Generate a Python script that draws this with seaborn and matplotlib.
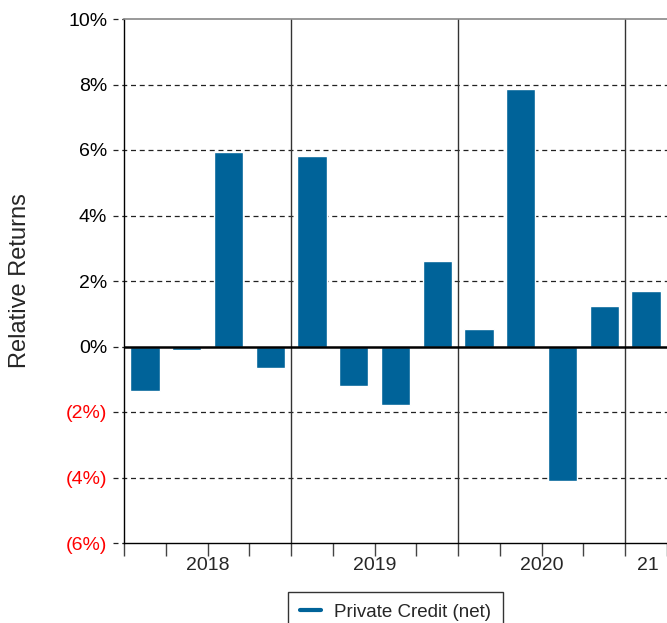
import matplotlib
matplotlib.use('Agg')
import matplotlib.pyplot as plt
import seaborn as sns
import pandas as pd
from matplotlib.lines import Line2D

# quarterly relative returns (%), 2018 Q1 .. 2021 Q1
quarters = ['2018Q1', '2018Q2', '2018Q3', '2018Q4',
            '2019Q1', '2019Q2', '2019Q3', '2019Q4',
            '2020Q1', '2020Q2', '2020Q3', '2020Q4',
            '2021Q1']
returns = [-1.35, -0.1, 5.95, -0.67,
           5.82, -1.2, -1.8, 2.62,
           0.52, 7.85, -4.1, 1.25,
           1.7]
year_labels = ['2018', '2019', '2020', '21']
yticks = [-6, -4, -2, 0, 2, 4, 6, 8, 10]

df = pd.DataFrame({'quarter': quarters, 'ret': returns})

sns.set_style('white')
plt.rcParams['font.family'] = ['Liberation Sans', 'DejaVu Sans']

blue = '#006399'
fig = plt.figure(figsize=(6.67, 6.23), dpi=100)
ax = fig.add_axes([124/667, 1 - 543/623, 1 - 124/667, 524/623])

sns.barplot(data=df, x='quarter', y='ret', color=blue, saturation=1,
            width=0.7, ax=ax, zorder=3)

ax.set_xlim(-0.5, len(quarters) - 0.57)
ax.set_ylim(-6, 10)

# gridlines, extended a little left of the axis like the reference
ytrans = ax.get_yaxis_transform()
for y in yticks:
    if y in (-6, 0, 10):
        ax.plot([-0.02, 0], [y, y], transform=ytrans, ls=(0, (4, 3)),
                color='#222222', lw=0.9, clip_on=False)
        continue
    ax.plot([-0.02, 1], [y, y], transform=ytrans, ls=(0, (4, 3)),
            color='#222222', lw=0.9, clip_on=False, zorder=1)
ax.axhline(0, color='black', lw=1.8, zorder=4)

# year separators
n_years = len(year_labels)
for k in range(1, n_years):
    ax.axvline(4 * k - 0.5, color='#333333', lw=1.0, zorder=2)

# ticks
ax.set_yticks(yticks)
ax.set_yticklabels([f'{v}%' if v >= 0 else f'({-v}%)' for v in yticks])
for lbl, v in zip(ax.get_yticklabels(), yticks):
    lbl.set_color('#ff0000' if v < 0 else 'black')
ax.tick_params(axis='y', length=0, pad=12, labelsize=14)

ax.xaxis.remove_overlapping_locs = False
major = [i - 0.5 for i in range(len(quarters) + 1)]
ax.set_xticks(major)
ax.set_xticklabels([''] * len(major))
label_pos = [1.5, 5.5, 9.5, 12.05]
ax.set_xticks(label_pos, minor=True)
ax.set_xticklabels(year_labels, minor=True)
ax.tick_params(axis='x', which='major', length=9, width=1.0, color='#444444',
               direction='out', bottom=True)
ax.tick_params(axis='x', which='minor', length=0, pad=10, labelsize=14)

for s in ['left', 'bottom']:
    ax.spines[s].set_color('black')
    ax.spines[s].set_linewidth(1.0)
ax.spines['right'].set_visible(False)
ax.spines['top'].set_color('#888888')
ax.spines['top'].set_linewidth(1.2)

ax.set_xlabel('')
ax.set_ylabel('Relative Returns', fontsize=17)
ax.yaxis.set_label_coords(-0.172, 0.5)

handle = Line2D([0], [0], color=blue, lw=3)
leg = ax.legend([handle], ['Private Credit (net)'], loc='upper center',
                bbox_to_anchor=(0.5, -0.093), frameon=True, fancybox=False,
                fontsize=13.5, handlelength=1.1, handletextpad=0.7,
                borderpad=0.65, borderaxespad=0)
leg.get_frame().set_edgecolor('black')
leg.get_frame().set_linewidth(1.0)

fig.savefig('out.png', dpi=100)
